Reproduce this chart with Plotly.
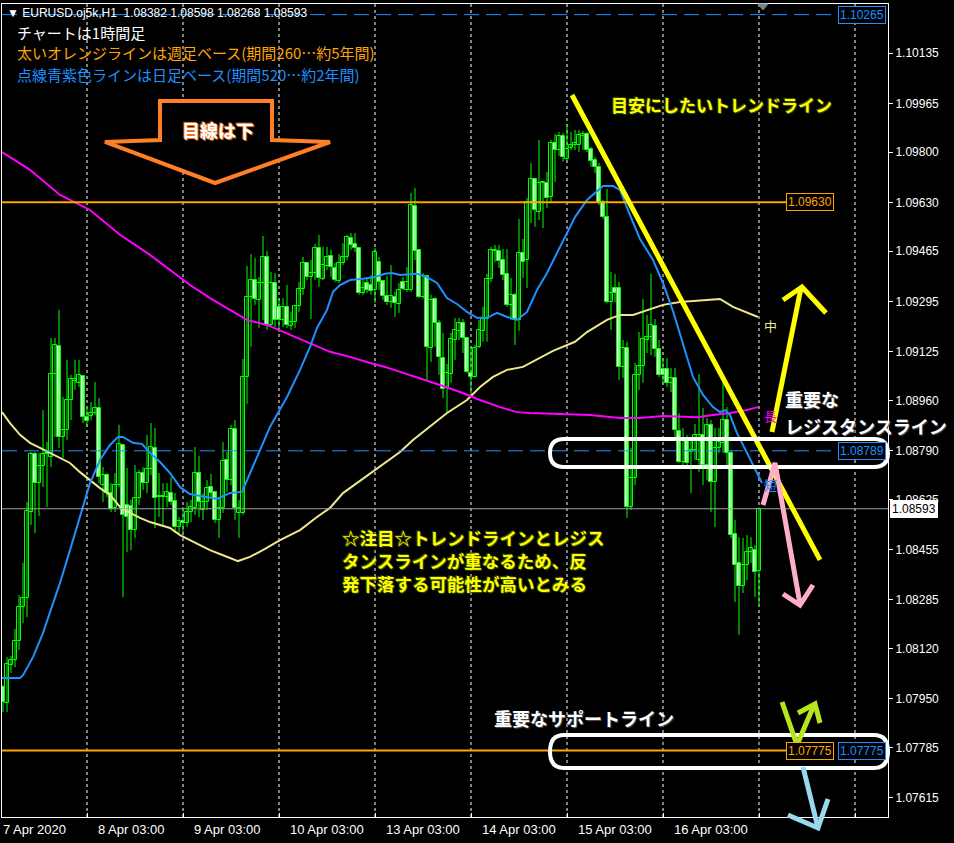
import plotly.graph_objects as go

# ---------------- data (EURUSD H1) ----------------
opens = [1.07989,1.07936,1.08064,1.08081,1.08146,1.08260,1.08291,1.08582,1.08778,1.08680,
         1.08738,1.08778,1.08768,1.09049,1.09144,1.08836,1.08860,1.08961,1.09026,1.09019,
         1.09043,1.08903,1.08907,1.08917,1.08934,1.08673,1.08707,1.08646,1.08596,1.08673,
         1.08809,1.08606,1.08602,1.08521,1.08629,1.08714,1.08680,1.08727,1.08799,1.08636,
         1.08632,1.08632,1.08646,1.08619,1.08531,1.08552,1.08545,1.08582,1.08596,1.08714,
         1.08589,1.08616,1.08666,1.08650,1.08555,1.08596,1.08758,1.08690,1.08863,1.08579,
         1.08579,1.09039,1.09310,1.09367,1.09300,1.09357,1.09445,1.09215,1.09357,1.09276,
         1.09232,1.09276,1.09212,1.09225,1.09279,1.09337,1.09425,1.09377,1.09391,1.09476,
         1.09370,1.09415,1.09449,1.09408,1.09364,1.09425,1.09445,1.09509,1.09489,1.09476,
         1.09323,1.09357,1.09350,1.09333,1.09428,1.09364,1.09313,1.09293,1.09310,1.09286,
         1.09360,1.09333,1.09333,1.09618,1.09469,1.09310,1.09381,1.09137,1.09303,1.09222,
         1.09103,1.09002,1.09049,1.09164,1.09195,1.09222,1.09171,1.09053,1.09039,1.09141,
         1.09195,1.09235,1.09371,1.09469,1.09465,1.09435,1.09388,1.09283,1.09317,1.09232,
         1.09459,1.09435,1.09631,1.09709,1.09597,1.09696,1.09696,1.09648,1.09831,1.09807,
         1.09854,1.09777,1.09814,1.09824,1.09824,1.09854,1.09861,1.09811,1.09773,1.09750,
         1.09631,1.09580,1.09293,1.09340,1.09340,1.09073,1.09137,1.08599,1.08697,1.09046,
         1.09076,1.09164,1.09174,1.09212,1.09134,1.09066,1.09066,1.09019,1.09036,1.08856,
         1.08751,1.08822,1.08785,1.08792,1.08758,1.08843,1.08741,1.08877,1.08684,1.08799,
         1.08816,1.08893,1.08782,1.08507,1.08410,1.08332,1.08403,1.08447,1.08453,1.08382]
highs = [1.07996,1.08091,1.08095,1.08186,1.08301,1.08410,1.08616,1.08785,1.08785,1.08782,
         1.08927,1.08819,1.09171,1.09171,1.09266,1.08971,1.09097,1.09046,1.09097,1.09097,
         1.09046,1.08937,1.08954,1.09022,1.08968,1.08734,1.08714,1.08680,1.08714,1.08877,
         1.08812,1.08731,1.08623,1.08741,1.08724,1.08734,1.08843,1.08883,1.08866,1.08714,
         1.08680,1.08680,1.08700,1.08646,1.08565,1.08599,1.08616,1.08623,1.08802,1.08772,
         1.08646,1.08690,1.08711,1.08653,1.08629,1.08819,1.08785,1.08877,1.08893,1.08623,
         1.09100,1.09415,1.09455,1.09442,1.09377,1.09516,1.09465,1.09394,1.09391,1.09306,
         1.09306,1.09350,1.09259,1.09283,1.09360,1.09445,1.09428,1.09435,1.09489,1.09520,
         1.09479,1.09479,1.09469,1.09425,1.09455,1.09492,1.09520,1.09526,1.09526,1.09479,
         1.09367,1.09377,1.09384,1.09476,1.09445,1.09367,1.09381,1.09418,1.09327,1.09357,
         1.09377,1.09411,1.09662,1.09679,1.09472,1.09391,1.09384,1.09317,1.09310,1.09232,
         1.09188,1.09083,1.09188,1.09239,1.09239,1.09235,1.09174,1.09141,1.09147,1.09232,
         1.09276,1.09388,1.09479,1.09486,1.09486,1.09472,1.09472,1.09374,1.09323,1.09574,
         1.09506,1.09645,1.09763,1.09713,1.09841,1.09703,1.09733,1.09841,1.09861,1.09868,
         1.09865,1.09895,1.09868,1.09875,1.09875,1.09871,1.09868,1.09817,1.09783,1.09763,
         1.09638,1.09675,1.09394,1.09388,1.09360,1.09164,1.09158,1.08799,1.09087,1.09191,
         1.09303,1.09249,1.09388,1.09235,1.09164,1.09103,1.09103,1.09070,1.09070,1.08917,
         1.08866,1.08843,1.08826,1.08880,1.09049,1.08934,1.08900,1.08893,1.08866,1.08866,
         1.09019,1.08937,1.08792,1.08555,1.08497,1.08494,1.08504,1.08497,1.08470,1.08598]
lows = [1.07905,1.07905,1.08037,1.08057,1.08115,1.08206,1.08226,1.08538,1.08511,1.08569,
        1.08666,1.08599,1.08734,1.08836,1.08799,1.08765,1.08826,1.08893,1.08995,1.09005,
        1.08883,1.08870,1.08893,1.08910,1.08680,1.08616,1.08632,1.08582,1.08582,1.08666,
        1.08294,1.08446,1.08453,1.08494,1.08606,1.08656,1.08646,1.08707,1.08528,1.08565,
        1.08531,1.08599,1.08606,1.08511,1.08511,1.08514,1.08531,1.08548,1.08572,1.08565,
        1.08555,1.08589,1.08629,1.08545,1.08494,1.08579,1.08650,1.08673,1.08555,1.08494,
        1.08572,1.08948,1.09141,1.09283,1.09205,1.09232,1.09198,1.09208,1.09208,1.09191,
        1.09208,1.09205,1.09198,1.09205,1.09259,1.09317,1.09367,1.09235,1.09367,1.09344,
        1.09367,1.09401,1.09377,1.09360,1.09357,1.09418,1.09435,1.09469,1.09462,1.09317,
        1.09317,1.09323,1.09317,1.09289,1.09333,1.09300,1.09283,1.09273,1.09242,1.09256,
        1.09333,1.09327,1.09327,1.09435,1.09306,1.09303,1.09029,1.09090,1.09141,1.09046,
        1.08968,1.08920,1.09019,1.09097,1.09164,1.09120,1.09053,1.08971,1.09036,1.09137,
        1.09158,1.09158,1.09360,1.09428,1.09408,1.09367,1.09276,1.09232,1.09147,1.09195,
        1.09374,1.09340,1.09560,1.09547,1.09570,1.09543,1.09611,1.09631,1.09699,1.09787,
        1.09767,1.09773,1.09807,1.09807,1.09800,1.09807,1.09800,1.09750,1.09729,1.09621,
        1.09574,1.09289,1.09198,1.09293,1.09029,1.09036,1.08562,1.08589,1.08673,1.08995,
        1.09019,1.09120,1.09113,1.09107,1.09039,1.09012,1.09005,1.08988,1.08826,1.08748,
        1.08741,1.08734,1.08646,1.08758,1.08717,1.08673,1.08690,1.08582,1.08531,1.08782,
        1.08782,1.08741,1.08494,1.08277,1.08166,1.08308,1.08352,1.08410,1.08294,1.08268]
closes = [1.07939,1.08067,1.08081,1.08146,1.08260,1.08291,1.08586,1.08778,1.08680,1.08738,
          1.08778,1.08782,1.09049,1.09147,1.08836,1.08860,1.08961,1.09032,1.09032,1.09046,
          1.08903,1.08890,1.08917,1.08934,1.08700,1.08707,1.08646,1.08592,1.08673,1.08812,
          1.08572,1.08565,1.08521,1.08629,1.08714,1.08680,1.08727,1.08802,1.08629,1.08632,
          1.08636,1.08650,1.08616,1.08531,1.08552,1.08545,1.08582,1.08599,1.08714,1.08616,
          1.08616,1.08663,1.08646,1.08555,1.08596,1.08755,1.08690,1.08863,1.08596,1.08596,
          1.09039,1.09310,1.09367,1.09303,1.09357,1.09445,1.09215,1.09357,1.09232,1.09232,
          1.09276,1.09215,1.09225,1.09279,1.09337,1.09425,1.09377,1.09391,1.09476,1.09374,
          1.09418,1.09445,1.09411,1.09367,1.09425,1.09445,1.09513,1.09486,1.09476,1.09323,
          1.09340,1.09333,1.09330,1.09462,1.09360,1.09313,1.09293,1.09313,1.09289,1.09333,
          1.09337,1.09360,1.09621,1.09465,1.09310,1.09381,1.09141,1.09300,1.09222,1.09107,
          1.08998,1.09053,1.09168,1.09198,1.09222,1.09171,1.09056,1.09039,1.09137,1.09198,
          1.09235,1.09371,1.09469,1.09465,1.09432,1.09384,1.09283,1.09317,1.09232,1.09459,
          1.09428,1.09631,1.09709,1.09604,1.09696,1.09699,1.09645,1.09831,1.09807,1.09854,
          1.09783,1.09811,1.09824,1.09831,1.09858,1.09861,1.09807,1.09770,1.09750,1.09631,
          1.09580,1.09293,1.09323,1.09323,1.09073,1.09137,1.08599,1.08697,1.09046,1.09076,
          1.09168,1.09174,1.09215,1.09134,1.09046,1.09046,1.09019,1.09036,1.08860,1.08751,
          1.08822,1.08748,1.08792,1.08843,1.08843,1.08741,1.08877,1.08684,1.08799,1.08819,
          1.08893,1.08782,1.08504,1.08403,1.08332,1.08403,1.08447,1.08460,1.08379,1.08593]
bars = list(range(len(opens)))

# moving averages (bar index, price)
ma_short_idx = [-0.25,4.25,5,7.5,10,11.75,14.25,16.75,19.25,21.75,24.25,26.75,28.75,30,32.5,34.75,36.75,
                39.25,41.75,44.25,46.75,49.25,53.5,56.75,59.75,63.5,66.75,71,74.25,76.75,78.5,81,82.5,
                84.25,86.75,90,93,95.5,97.25,99.25,103.5,106,108.5,111,113.5,116,118.5,121,123.5,126,
                128.5,131,133.5,136,138.5,141,143,146,150,152.5,154.25,156.75,159.25,162.5,165,167.5,
                170,172.5,175,177.5,179.25,180.5,181.75,183.5,186,188.5,189.75]
ma_short_val = [1.08020,1.08020,1.08030,1.08091,1.08173,1.08240,1.08342,1.08453,1.08565,1.08680,1.08758,
                1.08809,1.08836,1.08836,1.08816,1.08812,1.08782,1.08751,1.08714,1.08666,1.08643,1.08636,
                1.08626,1.08646,1.08650,1.08768,1.08870,1.08971,1.09063,1.09141,1.09205,1.09266,1.09327,
                1.09350,1.09367,1.09371,1.09377,1.09388,1.09391,1.09384,1.09388,1.09377,1.09357,1.09306,
                1.09286,1.09259,1.09239,1.09239,1.09256,1.09242,1.09232,1.09259,1.09333,1.09391,1.09459,
                1.09526,1.09580,1.09638,1.09685,1.09685,1.09672,1.09587,1.09506,1.09435,1.09357,1.09262,
                1.09147,1.09039,1.08978,1.08937,1.08920,1.08927,1.08910,1.08849,1.08782,1.08714,1.08680]
ma_mid_idx = [-0.25,1.75,4.25,6.75,9.25,11.75,14.25,16.75,19.25,21.75,24.25,26.75,29.25,31.75,34.25,36.75,
              39.25,41.75,44.25,46.75,49.25,51.75,55.5,58.75,61.75,65.5,69.25,74.25,78.5,81.75,85,88.5,
              92.5,95.5,99.25,102.5,106.75,111,116,119.25,122.5,126,130,133.5,137.5,143,146,151,154.25,
              157.5,161,165,169.25,175,179.25,182.5,186,188.75]
ma_mid_val = [1.08920,1.08883,1.08843,1.08816,1.08799,1.08782,1.08765,1.08748,1.08717,1.08690,1.08663,
              1.08640,1.08599,1.08579,1.08562,1.08548,1.08538,1.08528,1.08504,1.08487,1.08470,1.08453,
              1.08433,1.08416,1.08430,1.08457,1.08487,1.08521,1.08565,1.08596,1.08646,1.08680,1.08717,
              1.08748,1.08785,1.08826,1.08870,1.08917,1.08961,1.09005,1.09039,1.09063,1.09073,1.09097,
              1.09127,1.09158,1.09191,1.09232,1.09249,1.09249,1.09266,1.09283,1.09293,1.09300,1.09303,
              1.09276,1.09256,1.09242]
ma_long_idx = [-0.25,6.75,14.25,21.75,29.25,36.75,46.75,51.75,56.75,61,66,71.75,76.75,81.75,86.75,91.75,
               95.5,99.25,104.25,109.25,114.25,119.25,124.25,128.5,131.75,141,146.75,154.25,159.25,165,
               173.5,177.5,181.75,186,188.75]
ma_long_val = [1.09800,1.09740,1.09655,1.09604,1.09520,1.09452,1.09350,1.09306,1.09266,1.09232,1.09215,
               1.09181,1.09154,1.09124,1.09107,1.09086,1.09073,1.09056,1.09036,1.09012,1.08988,1.08961,
               1.08937,1.08920,1.08917,1.08914,1.08910,1.08900,1.08900,1.08907,1.08903,1.08910,1.08917,
               1.08927,1.08937]

ytick_vals = [1.10135,1.09965,1.09800,1.09630,1.09465,1.09295,1.09125,1.08960,1.08790,1.08625,
              1.08455,1.08285,1.08120,1.07950,1.07785,1.07615]
xgrid_bars = [21,45,69,93,117,141,165,189,213]
xlabel_bars = [0,21,45,69,93,117,141,165]
xlabel_text = ["7 Apr 2020","8 Apr 03:00","9 Apr 03:00","10 Apr 03:00","13 Apr 03:00",
               "14 Apr 03:00","15 Apr 03:00","16 Apr 03:00"]
weekly_levels = [1.09630, 1.07775]
daily_levels = [1.10265, 1.08789, 1.07775]
bid_price = 1.08593
trend_start = (142.25, 1.09993)
trend_end = (204.25, 1.08420)

# ---------------- figure ----------------
W, H = 954, 843
L, R, T, B = 2, 888, 4, 817
def PX(x): return (x - L) / (R - L)
def PY(y): return (B - y) / (B - T)

GREEN = "#00FF00"
fig = go.Figure()

wx, wy = [], []
for i, h, l in zip(bars, highs, lows):
    wx += [i, i, None]; wy += [l, h, None]
fig.add_trace(go.Scatter(x=wx, y=wy, mode="lines", line=dict(color=GREEN, width=1),
                         hoverinfo="skip", showlegend=False))
body_h = [max(abs(c - o), 0.000012) for o, c in zip(opens, closes)]
body_b = [min(o, c) for o, c in zip(opens, closes)]
body_c = ["#000000" if c >= o else "#FFFFFF" for o, c in zip(opens, closes)]
fig.add_trace(go.Bar(x=bars, y=body_h, base=body_b, width=0.8,
                     marker=dict(color=body_c, line=dict(color=GREEN, width=1)),
                     showlegend=False))
fig.add_trace(go.Scatter(x=ma_mid_idx, y=ma_mid_val, mode="lines",
                         line=dict(color="#F0E68C", width=2), showlegend=False))
fig.add_trace(go.Scatter(x=ma_long_idx, y=ma_long_val, mode="lines",
                         line=dict(color="#FF00FF", width=2), showlegend=False))
fig.add_trace(go.Scatter(x=ma_short_idx, y=ma_short_val, mode="lines",
                         line=dict(color="#1E90FF", width=2), showlegend=False))

shapes = []
for b in xgrid_bars:
    shapes.append(dict(type="line", xref="x", yref="paper", x0=b, x1=b, y0=0, y1=1,
                       line=dict(color="#FFFFFF", width=1, dash="3px,3px"), layer="below"))
# daily (blue dashed) levels, up to label box
for lv in daily_levels:
    shapes.append(dict(type="line", xref="paper", yref="y", x0=0, x1=PX(838), y0=lv, y1=lv,
                       line=dict(color="#1E90FF", width=1, dash="15px,7px")))
for lv in weekly_levels:
    shapes.append(dict(type="line", xref="paper", yref="y", x0=0, x1=PX(786), y0=lv, y1=lv,
                       line=dict(color="#FFA500", width=2)))
shapes.append(dict(type="line", xref="paper", yref="y", x0=0, x1=1, y0=bid_price, y1=bid_price,
                   line=dict(color="#A0A0A0", width=1)))
# trend line
shapes.append(dict(type="line", xref="x", yref="y", x0=trend_start[0], y0=trend_start[1],
                   x1=trend_end[0], y1=trend_end[1], line=dict(color="#FFFF00", width=5)))

def path(points, close=False):
    s = "M " + " L ".join(f"{PX(x):.5f},{PY(y):.5f}" for x, y in points)
    return s + (" Z" if close else "")

def rounded(x0, y0, x1, y1, r):
    ym = (y0 + y1) / 2
    p = (f"M {PX(x0+r):.5f},{PY(y0):.5f} L {PX(x1-r):.5f},{PY(y0):.5f} "
         f"Q {PX(x1):.5f},{PY(y0):.5f} {PX(x1):.5f},{PY(ym):.5f} "
         f"Q {PX(x1):.5f},{PY(y1):.5f} {PX(x1-r):.5f},{PY(y1):.5f} "
         f"L {PX(x0+r):.5f},{PY(y1):.5f} "
         f"Q {PX(x0):.5f},{PY(y1):.5f} {PX(x0):.5f},{PY(ym):.5f} "
         f"Q {PX(x0):.5f},{PY(y0):.5f} {PX(x0+r):.5f},{PY(y0):.5f} Z")
    return p

def pshape(p, color, width, fill="rgba(0,0,0,0)"):
    return dict(type="path", xref="paper", yref="paper", path=p, fillcolor=fill,
                line=dict(color=color, width=width))

# white rounded boxes
shapes.append(pshape(rounded(550, 439, 888, 467, 14), "#FFFFFF", 4))
shapes.append(pshape(rounded(550, 735, 888, 768, 14), "#FFFFFF", 4))
# orange block arrow
shapes.append(pshape(path([(160, 101), (272, 101), (272, 140), (330, 142), (215, 183),
                           (105, 142), (160, 140)], close=True), "#FF7F27", 4, "#000000"))
# yellow up arrow
shapes.append(pshape(path([(772, 432), (801, 288)]), "#FFFF00", 5))
shapes.append(pshape(path([(783, 300), (802, 287), (826, 313)]), "#FFFF00", 5))
# pink arrow
shapes.append(pshape(path([(763, 505), (775, 463), (800, 604)]), "#FFAEC9", 5))
shapes.append(pshape(path([(783, 594), (800, 605), (813, 585)]), "#FFAEC9", 5))
# yellow-green arrow
shapes.append(pshape(path([(782, 702), (797, 745), (814, 705)]), "#B5E61D", 5))
shapes.append(pshape(path([(798, 713), (815, 704), (820, 723)]), "#B5E61D", 5))
# light blue arrow
shapes.append(pshape(path([(803, 767), (818, 828)]), "#99D9EA", 5))
shapes.append(pshape(path([(788, 815), (818, 828), (828, 799)]), "#99D9EA", 5))
# chart shift marker
shapes.append(dict(type="path", xref="paper", yref="paper",
                   path=path([(758, 4), (768, 4), (763, 10)], close=True),
                   fillcolor="#808080", line=dict(color="#808080", width=1)))

ann = []
FONT = "Liberation Sans"
JP = "Noto Sans CJK JP"
def txt(x, y, s, color, size, font=FONT, weight="normal", xanchor="left", shadow=None, **kw):
    f = dict(color=color, size=size, family=font, weight=weight)
    if shadow:
        f["shadow"] = shadow
    ann.append(dict(xref="paper", yref="paper", x=PX(x), y=PY(y), text=s, showarrow=False,
                    xanchor=xanchor, yanchor="middle", font=f, **kw))

txt(5, 13, "▼ EURUSD.oj5k,H1  1.08382 1.08598 1.08268 1.08593", "#FFFFFF", 12)
txt(15, 33, "チャートは1時間足", "#FFFFFF", 15, font=JP)
txt(15, 53, "太いオレンジラインは週足ベース(期間260…約5年間)", "#FFA500", 15, font=JP)
txt(15, 74, "点線青紫色ラインは日足ベース(期間520…約2年間)", "#1E90FF", 15, font=JP)

SH = "1px 1px 1px #3a4a00, -1px -1px 1px #3a4a00"
txt(721, 105, "目安にしたいトレンドライン", "#FFFF00", 17, font=JP, weight="bold",
    xanchor="center", shadow=SH)
txt(218, 130, "目線は下", "#FFFFFF", 18, font=JP, weight="bold", xanchor="center",
    shadow="1px 1px 1px #FF7F27, -1px -1px 1px #FF7F27")
txt(783, 399, "重要な", "#FFFFFF", 18, font=JP, weight="bold", shadow="1px 1px 1px #505050")
txt(783, 426, "レジスタンスライン", "#FFFFFF", 18, font=JP, weight="bold",
    shadow="1px 1px 1px #505050")
txt(340, 560, "☆注目☆トレンドラインとレジス<br>タンスラインが重なるため、反<br>発下落する可能性が高いとみる",
    "#FFFF00", 17.5, font=JP, weight="bold", shadow=SH, align="left")
txt(492, 718, "重要なサポートライン", "#FFFFFF", 18, font=JP, weight="bold",
    shadow="1px 1px 1px #505050")
txt(762, 325, "中", "#F0E68C", 13, font=JP)
txt(762, 415, "長", "#FF00FF", 13, font=JP)
txt(762, 484, "短", "#1E90FF", 13, font=JP)

# level label boxes
def box(x, price, s, color, bg="#000000", fcolor=None):
    ann.append(dict(xref="paper", yref="y", x=PX(x), y=price, text=s, showarrow=False,
                    xanchor="left", yanchor="middle", bgcolor=bg, bordercolor=color,
                    borderwidth=1, borderpad=1,
                    font=dict(color=fcolor or color, size=12, family=FONT)))
box(838, daily_levels[0], "1.10265", "#1E90FF")
box(786, weekly_levels[0], "1.09630", "#FFA500")
box(838, daily_levels[1], "1.08789", "#1E90FF")
box(786, weekly_levels[1], "1.07775", "#FFA500")
box(838, daily_levels[2], "1.07775", "#1E90FF")
box(890, bid_price, "1.08593", "#FFFFFF", bg="#FFFFFF", fcolor="#000000")

for b, s in zip(xlabel_bars, xlabel_text):
    xpix = 1 if b == 0 else 3 + 4 * b + 9
    ann.append(dict(xref="paper", yref="paper", x=PX(xpix), y=0, yshift=-3, text=s,
                    showarrow=False, xanchor="left", yanchor="top",
                    font=dict(color="#FFFFFF", size=13, family=FONT)))

fig.update_layout(
    width=W, height=H, margin=dict(l=L, r=W - R, t=T, b=H - B),
    paper_bgcolor="#000000", plot_bgcolor="#000000", showlegend=False,
    bargap=0, shapes=shapes, annotations=ann,
    xaxis=dict(range=[-0.25, 221.25], showgrid=False, zeroline=False, showline=True,
               linecolor="#FFFFFF", linewidth=1, mirror=True, tickvals=xgrid_bars,
               ticktext=[""] * len(xgrid_bars), ticks="inside", ticklen=4,
               tickcolor="#FFFFFF", fixedrange=True),
    yaxis=dict(range=[1.07550, 1.10301], side="right", showgrid=False, zeroline=False,
               showline=True, linecolor="#FFFFFF", linewidth=1, mirror=True,
               tickvals=ytick_vals, ticktext=[f"{v:.5f}" for v in ytick_vals],
               ticks="outside", ticklen=4, tickcolor="#FFFFFF",
               tickfont=dict(color="#FFFFFF", size=12, family=FONT)),
)
fig.write_html("out.html", config={"displayModeBar": False},
               post_script="document.body.style.margin='0px';document.body.style.background='#000';")
